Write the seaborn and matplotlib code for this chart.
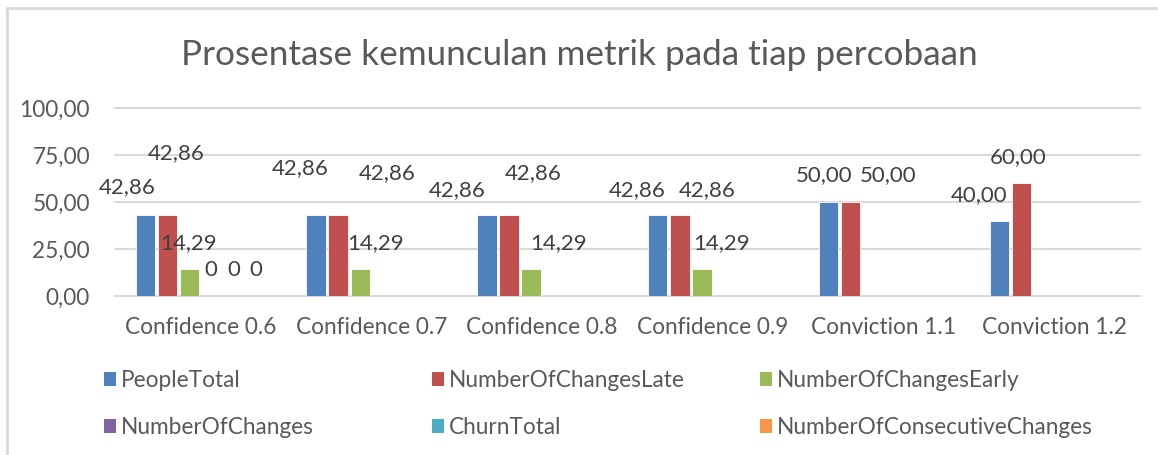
import numpy as np
import pandas as pd
import matplotlib
matplotlib.use("Agg")
import matplotlib.pyplot as plt
import seaborn as sns
from matplotlib.lines import Line2D
from matplotlib.patches import Patch

# data
categories = ["Confidence 0.6", "Confidence 0.7", "Confidence 0.8",
              "Confidence 0.9", "Conviction 1.1", "Conviction 1.2"]
series = ["PeopleTotal", "NumberOfChangesLate", "NumberOfChangesEarly",
          "NumberOfChanges", "ChurnTotal", "NumberOfConsecutiveChanges"]
people_total = [42.86, 42.86, 42.86, 42.86, 50.00, 40.00]
changes_late = [42.86, 42.86, 42.86, 42.86, 50.00, 60.00]
changes_early = [14.29, 14.29, 14.29, 14.29, np.nan, np.nan]
number_of_changes = [0, np.nan, np.nan, np.nan, np.nan, np.nan]
churn_total = [0, np.nan, np.nan, np.nan, np.nan, np.nan]
consecutive_changes = [0, np.nan, np.nan, np.nan, np.nan, np.nan]
yticks = [0, 25, 50, 75, 100]

colors = ["#4F81BD", "#C0504D", "#9BBB59", "#8064A2", "#4BACC6", "#F79646"]
text_col = "#595959"
grid_col = "#D9D9D9"

values = [people_total, changes_late, changes_early,
          number_of_changes, churn_total, consecutive_changes]
df = pd.DataFrame({
    "kategori": np.tile(categories, len(series)),
    "metrik": np.repeat(series, len(categories)),
    "nilai": np.concatenate(values),
}).dropna()

# label offsets in pixels from bar top centre, (series, category) -> (dx, dy)
label_off = {
    (0, 0): (-18, 28), (1, 0): (9, 62), (2, 0): (-1, 26),
    (3, 0): (-1, 26), (4, 0): (0, 26), (5, 0): (0, 26),
    (0, 1): (-16, 47), (1, 1): (49, 42), (2, 1): (15, 26),
    (0, 2): (-30, 25), (1, 2): (24, 42), (2, 2): (27, 26),
    (0, 3): (-21, 25), (1, 3): (27, 25), (2, 3): (20, 26),
    (0, 4): (-4, 27), (1, 4): (37, 27),
    (0, 5): (-20, 26), (1, 5): (-3, 26),
}

sns.set_style("white")
plt.rcParams["font.family"] = ["Lato", "DejaVu Sans"]

fig = plt.figure(figsize=(11.58, 4.55), dpi=100)
ax = fig.add_axes([115 / 1158, 1 - 296 / 455, (1140 - 115) / 1158, (296 - 108) / 455])

sns.barplot(data=df, x="kategori", y="nilai", hue="metrik",
            order=categories, hue_order=series, palette=colors, saturation=1,
            width=0.775, gap=0.12, legend=False, ax=ax,
            edgecolor="white", linewidth=0.6, zorder=3)

ax.set_ylim(0, 100)
ax.set_yticks(yticks)
ax.set_yticklabels([f"{t:.2f}".replace(".", ",") for t in yticks])
ax.set_xlabel("")
ax.set_ylabel("")
ax.set_xlim(-0.5, len(categories) - 0.5)
for y in yticks:
    ax.axhline(y, color=grid_col, lw=1.5, zorder=1, clip_on=False)
for s in ax.spines.values():
    s.set_visible(False)
ax.tick_params(axis="y", length=0, pad=18, labelsize=16.3, labelcolor=text_col)
ax.tick_params(axis="x", length=0, pad=15, labelsize=16.3, labelcolor=text_col)

# data labels
for si, cont in enumerate(ax.containers):
    for bar in cont:
        cx = bar.get_x() + bar.get_width() / 2
        ci = int(round(cx))
        v = values[si][ci]
        if np.isnan(v):
            continue
        txt = "0" if v == 0 else f"{v:.2f}".replace(".", ",")
        dx, dy = label_off.get((si, ci), (0, 26))
        ax.annotate(txt, (cx, bar.get_height()), xytext=(dx, dy),
                    textcoords="offset pixels", ha="center", va="center",
                    fontsize=16, color="#404040", annotation_clip=False)

fig.text(0.5, 1 - 55 / 455, "Prosentase kemunculan metrik pada tiap percobaan",
         ha="center", va="center", fontsize=25.3, color=text_col)

# legend, three columns of two rows
col_x = [104 / 1158, 432 / 1158, 760 / 1158]
for c in range(3):
    handles = [Patch(facecolor=colors[c + 3 * r], edgecolor="none") for r in range(2)]
    labels = [series[c + 3 * r] for r in range(2)]
    fig.legend(handles, labels, loc="upper left", bbox_to_anchor=(col_x[c], 1 - 370 / 455),
               frameon=False, fontsize=16.3, labelcolor=text_col, handlelength=0.55,
               handleheight=0.55, handletextpad=0.2, labelspacing=1.15,
               borderpad=0, borderaxespad=0)

# chart frame (top and left edges)
fig.add_artist(Line2D([7 / 1158, 1], [1 - 8 / 455, 1 - 8 / 455], color=grid_col, lw=2))
fig.add_artist(Line2D([7 / 1158, 7 / 1158], [0, 1 - 8 / 455], color=grid_col, lw=2))

fig.savefig("out.png", dpi=100)
